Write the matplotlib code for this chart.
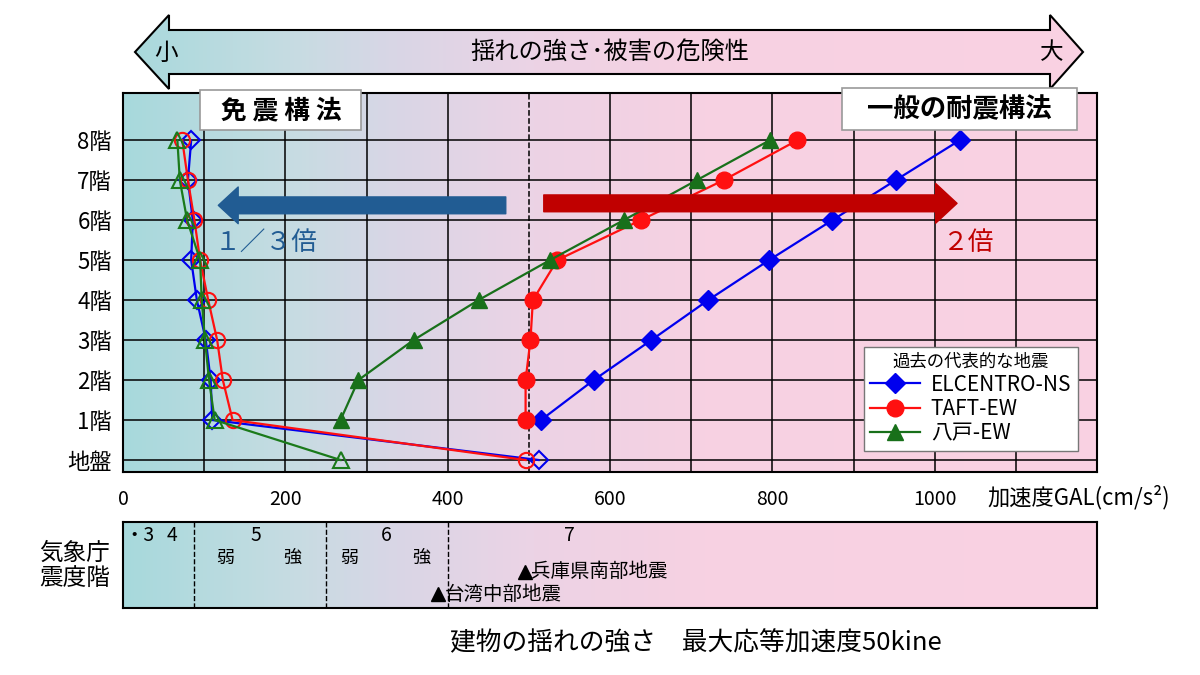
import numpy as np
import matplotlib.pyplot as plt
from matplotlib.colors import LinearSegmentedColormap
from matplotlib.patches import Polygon, Rectangle

plt.rcParams['font.family'] = ['Noto Sans CJK JP', 'DejaVu Sans']

floors = ['地盤', '1階', '2階', '3階', '4階', '5階', '6階', '7階', '8階']
levels = list(range(len(floors)))

# 一般の耐震構法 (1階〜8階)
elcentro = [515, 580, 651, 721, 796, 874, 952, 1031]
taft = [496, 496, 502, 505, 535, 638, 740, 831]
hachinohe = [268, 290, 358, 438, 526, 617, 707, 797]

# 免震構法 (地盤〜8階)
elcentro_iso = [512, 110, 108, 102, 91, 84, 86, 80, 84]
taft_iso = [496, 135, 123, 116, 105, 95, 88, 80, 73]
hachinohe_iso = [268, 113, 106, 101, 97, 95, 79, 70, 67]

# 気象庁震度階
bounds = [88, 250, 400]
int_labels = ['・3', '4', '5', '6', '7']
int_x = [20, 60, 164, 324, 550]
sub_labels = ['弱', '強', '弱', '強']
sub_x = [126, 209, 279, 367]
quakes = ['兵庫県南部地震', '台湾中部地震']
quake_x = [495, 388]
quake_y = [0.42, 0.16]

cmap = LinearSegmentedColormap.from_list(
    'bg', [(0, '#a7d9dc'), (0.17, '#c6dce2'), (0.28, '#d9d6e6'),
           (0.42, '#ecd3e5'), (0.6, '#f7d1e2'), (1, '#fad2e3')])
grad = np.linspace(0, 1, 256).reshape(1, -1)

fig = plt.figure(figsize=(12, 6.75), dpi=100)

# main chart
ax = fig.add_axes([123/1200, 1-472/675, 974/1200, 379/675])
ax.set_xlim(0, 1200)
ax.set_ylim(-0.3, 9.18)
ax.imshow(grad, extent=[0, 1200, -0.3, 9.18], aspect='auto', cmap=cmap, zorder=0)
for xv in range(100, 1200, 100):
    ax.axvline(xv, color='black', lw=1.1, ls='--' if xv == 500 else '-', zorder=1)
for yv in levels:
    ax.axhline(yv, color='black', lw=1.1, zorder=1)

ax.plot(elcentro_iso, levels, color='#0000ee', marker='D', ms=9, mfc='none', mec='#0000ee', mew=1.5, lw=1.6, zorder=3)
ax.plot(taft_iso, levels, color='#ff1010', marker='o', ms=11, mfc='none', mec='#ff1010', mew=1.5, lw=1.6, zorder=3)
ax.plot(hachinohe_iso, levels, color='#1a7a1a', marker='^', ms=11, mfc='none', mec='#1a7a1a', mew=1.5, lw=1.6, zorder=3)

ax.plot(elcentro, levels[1:], color='#0000ee', marker='D', ms=10, lw=1.6, label='ELCENTRO-NS', zorder=4)
ax.plot(taft, levels[1:], color='#ff1010', marker='o', ms=12, lw=1.6, label='TAFT-EW', zorder=4)
ax.plot(hachinohe, levels[1:], color='#18701a', marker='^', ms=12, lw=1.6, label='八戸-EW', zorder=4)

ax.annotate('', xy=(114, 6.37), xytext=(475, 6.37),
            arrowprops=dict(arrowstyle='simple,head_length=1.3,head_width=2.4,tail_width=1.1',
                            color='#215c93', mutation_scale=11), zorder=5)
ax.annotate('', xy=(1031, 6.42), xytext=(515, 6.42),
            arrowprops=dict(arrowstyle='simple,head_length=1.4,head_width=2.6,tail_width=1.1',
                            color='#c00000', mutation_scale=11), zorder=5)
ax.text(176, 5.43, '１／３倍', color='#215c93', fontsize=18.5, ha='center', va='center', zorder=5)
ax.text(1041, 5.43, '２倍', color='#c00000', fontsize=18.5, ha='center', va='center', zorder=5)

ax.set_xticks(range(0, 1001, 200))
ax.set_yticks(levels)
ax.set_yticklabels(floors)
ax.tick_params(axis='x', length=0, pad=12, labelsize=14)
ax.tick_params(axis='y', length=0, pad=8, labelsize=16)
for s in ax.spines.values():
    s.set_linewidth(1.5)

leg = ax.legend(title='過去の代表的な地震', loc='upper right', bbox_to_anchor=(0.98, 0.33),
                fontsize=15, title_fontsize=12.5, handlelength=2.4, labelspacing=0.12,
                borderpad=0.3, handletextpad=0.5, framealpha=1, fancybox=False,
                edgecolor='#777777', borderaxespad=0)
leg.set_zorder(6)

# intensity band
band = fig.add_axes([123/1200, 1-608/675, 974/1200, 86/675])
band.set_xlim(0, 1200)
band.set_ylim(0, 1)
band.imshow(grad, extent=[0, 1200, 0, 1], aspect='auto', cmap=cmap, zorder=0)
for b in bounds:
    band.axvline(b, color='black', lw=1, ls='--', zorder=1)
for lab, xv in zip(int_labels, int_x):
    band.text(xv, 0.84, lab, fontsize=14, ha='center', va='center')
for lab, xv in zip(sub_labels, sub_x):
    band.text(xv, 0.58, lab, fontsize=13, ha='center', va='center')
band.plot(quake_x, quake_y, '^', color='black', ms=10)
for lab, xv, yv in zip(quakes, quake_x, quake_y):
    band.text(xv + 8, yv, lab, fontsize=14, ha='left', va='center')
band.set_xticks([])
band.set_yticks([])
for s in band.spines.values():
    s.set_linewidth(1.5)

# overlay in pixel coordinates
ov = fig.add_axes([0, 0, 1, 1], zorder=10)
ov.set_xlim(0, 1200)
ov.set_ylim(675, 0)
ov.axis('off')
arrow = Polygon([(135, 52), (169, 15), (169, 30), (1050, 30), (1050, 15), (1083, 52),
                 (1050, 89), (1050, 74), (169, 74), (169, 89)], closed=True,
                fc='none', ec='black', lw=1.5, zorder=3)
ov.add_patch(arrow)
img = ov.imshow(grad, extent=[123, 1097, 92, 12], aspect='auto', cmap=cmap, zorder=2)
img.set_clip_path(arrow)
ov.set_xlim(0, 1200)
ov.set_ylim(675, 0)
ov.text(166, 53, '小', fontsize=17, ha='center', va='center', zorder=4)
ov.text(1052, 53, '大', fontsize=17, ha='center', va='center', zorder=4)
ov.text(610, 53, '揺れの強さ･被害の危険性', fontsize=17.5, ha='center', va='center', zorder=4)

ov.add_patch(Rectangle((200, 90), 161, 40, fc='white', ec='#999999', lw=1.2, zorder=3))
ov.text(281, 111, '免 震 構 法', fontsize=18.5, fontweight='bold', ha='center', va='center', zorder=4)
ov.add_patch(Rectangle((842, 88), 235, 42, fc='white', ec='#999999', lw=1.2, zorder=3))
ov.text(959, 110, '一般の耐震構法', fontsize=19, fontweight='bold', ha='center', va='center', zorder=4)

ov.text(75, 566, '気象庁\n震度階', fontsize=17, ha='center', va='center', linespacing=1.1)
ov.text(1079, 497, '加速度GAL(cm/s²)', fontsize=16, ha='center', va='center')
ov.text(696, 643, '建物の揺れの強さ　最大応等加速度50kine', fontsize=18.5, ha='center', va='center')

fig.savefig('out.png', dpi=100)
